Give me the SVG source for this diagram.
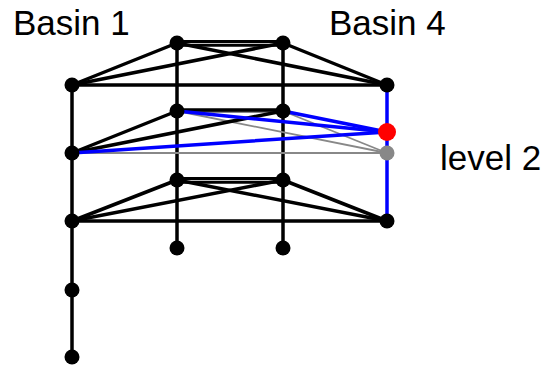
<svg xmlns="http://www.w3.org/2000/svg" width="552" height="367" viewBox="0 0 552 367">
<style>
.k{stroke:#000;stroke-width:3.5;fill:none;stroke-linecap:round}
.d{stroke:#000;stroke-width:3;fill:none}
.b{stroke:#0000ff;stroke-width:3.5;fill:none;stroke-linecap:round}
.g{stroke:#888;stroke-width:1.8;fill:none}
.n{fill:#000}
.t{font-family:"Liberation Sans",Arial,sans-serif;font-size:35px;fill:#000}
</style>
<rect width="552" height="367" fill="#fff"/>
<g id="connectors">
<line class="d" x1="177" y1="41.6" x2="283" y2="41.6"/>
<line class="d" x1="177" y1="45.2" x2="283" y2="45.2"/>
<line class="k" x1="177" y1="43" x2="72" y2="85"/>
<line class="k" x1="177" y1="43" x2="387" y2="85"/>
<line class="k" x1="283" y1="43" x2="72" y2="85"/>
<line class="k" x1="283" y1="43" x2="387" y2="85"/>
<line class="k" x1="72" y1="85" x2="387" y2="85"/>
<line class="k" x1="177" y1="43" x2="177" y2="248"/>
<line class="k" x1="283" y1="43" x2="283" y2="248"/>
<line class="k" x1="72" y1="85" x2="72" y2="357"/>
<line class="g" x1="177" y1="112" x2="283" y2="112"/>
<line class="g" x1="177" y1="111" x2="387" y2="153"/>
<line class="g" x1="283" y1="111" x2="387" y2="153"/>
<line class="g" x1="72" y1="153" x2="387" y2="153"/>
<line class="k" x1="177" y1="110" x2="283" y2="110"/>
<line class="k" x1="72" y1="153" x2="177" y2="111"/>
<line class="k" x1="72" y1="153" x2="283" y2="111"/>
<line class="b" x1="177" y1="111" x2="387" y2="132"/>
<line class="b" x1="283" y1="111" x2="387" y2="132"/>
<line class="b" x1="72" y1="153" x2="387" y2="132"/>
<line class="b" x1="387" y1="85" x2="387" y2="221"/>
<line class="d" x1="177" y1="178.6" x2="283" y2="178.6"/>
<line class="d" x1="177" y1="182.2" x2="283" y2="182.2"/>
<line class="k" x1="177" y1="180" x2="72" y2="221"/>
<line class="k" x1="177" y1="180" x2="387" y2="221"/>
<line class="k" x1="283" y1="180" x2="72" y2="221"/>
<line class="k" x1="283" y1="180" x2="387" y2="221"/>
<line class="k" x1="72" y1="221" x2="387" y2="221"/>
</g>
<g id="n1"><circle class="n" cx="177" cy="43" r="7.5"/></g>
<g id="n2"><circle class="n" cx="283" cy="43" r="7.5"/></g>
<g id="n3"><circle class="n" cx="72" cy="85" r="7.5"/></g>
<g id="n4"><circle class="n" cx="387" cy="85" r="7.5"/></g>
<g id="n5"><circle class="n" cx="177" cy="111" r="7.5"/></g>
<g id="n6"><circle class="n" cx="283" cy="111" r="7.5"/></g>
<g id="n7"><circle class="n" cx="72" cy="153" r="7.5"/></g>
<g id="n8"><circle fill="#ff0000" cx="387" cy="132" r="9"/></g>
<g id="n9"><circle fill="#888" cx="387" cy="153" r="7.5"/></g>
<g id="n10"><circle class="n" cx="177" cy="180" r="7.5"/></g>
<g id="n11"><circle class="n" cx="283" cy="180" r="7.5"/></g>
<g id="n12"><circle class="n" cx="72" cy="221" r="7.5"/></g>
<g id="n13"><circle class="n" cx="387" cy="221" r="7.5"/></g>
<g id="n14"><circle class="n" cx="177" cy="248" r="7.5"/></g>
<g id="n15"><circle class="n" cx="283" cy="248" r="7.5"/></g>
<g id="n16"><circle class="n" cx="72" cy="290" r="7.5"/></g>
<g id="n17"><circle class="n" cx="72" cy="357" r="7.5"/></g>
<g id="labels">
<text class="t" x="13" y="35">Basin 1</text>
<text class="t" x="329" y="35">Basin 4</text>
<text class="t" x="440" y="170">level 2</text>
</g>
</svg>
